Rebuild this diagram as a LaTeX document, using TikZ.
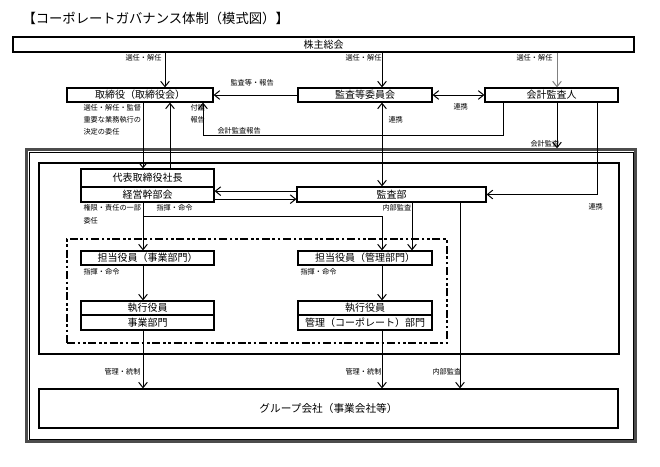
\documentclass[tikz,border=0pt]{standalone}
\usepackage{fontspec}
\setmainfont{Noto Sans CJK JP}
\usetikzlibrary{arrows.meta,fit}

\tikzset{every picture/.style={line width=0.75pt}}

\begin{document}
\begin{tikzpicture}[x=0.75pt,y=0.75pt,yscale=-1,xscale=1,
    box/.style={draw,line width=0.9pt,inner sep=0pt,fill=white,minimum height=10.5pt,font=\fontsize{7.5}{8}\selectfont},
    lbl/.style={anchor=west,inner sep=0.75pt,font=\fontsize{5.4}{6}\selectfont},
    arr/.style={-{Straight Barb[length=4pt,width=6.5pt]}},
    arrs/.style={{Straight Barb[length=4pt,width=6.5pt]}-{Straight Barb[length=4pt,width=6.5pt]}}]
            \useasboundingbox (0,0) rectangle (660,467);

            % Text Node
            \node [anchor=west,inner sep=0pt,font=\fontsize{10}{12}\selectfont] (title) at (22,18) {【コーポレートガバナンス体制（模式図）】};

            %Shape: frames
            \node [draw=gray!60!black,line width=1.8pt,inner sep=0pt,fit={(26.5,149.5) (635.5,441.5)}] (outer) {};
            \node [draw,line width=0.6pt,inner sep=0pt,fit={(29,152) (633,439)}] (outerin) {};
            \node [draw,line width=0.9pt,inner sep=0pt,fit={(39,163) (619,354)}] (inner) {};
            \node [draw,line width=1.6pt,inner sep=0pt,dash pattern={on 6pt off 2pt on 2pt off 2pt on 2pt off 2pt},fit={(67,239) (447,343)}] (exec) {};

            %Shape: boxes
            \node [box,minimum width=465.75pt,minimum height=11.25pt] (soukai) at (323.5,44.5) {株主総会};
            \node [box,minimum width=109.5pt] (tori) at (140,95) {取締役（取締役会）};
            \node [box,minimum width=100.5pt] (kansaiin) at (365,95) {監査等委員会};
            \node [box,minimum width=99.75pt] (kaikei) at (551.5,95) {会計監査人};
            \node [box,minimum width=99.75pt,minimum height=13.5pt] (shacho) at (147.5,178) {代表取締役社長};
            \node [box,minimum width=99.75pt,minimum height=11.25pt] (keiei) at (147.5,194.5) {経営幹部会};
            \node [box,minimum width=141.75pt,minimum height=11.25pt] (kansabu) at (391.5,194.5) {監査部};
            \node [box,minimum width=99.75pt] (tanto1) at (147.5,258) {担当役員（事業部門）};
            \node [box,minimum width=100.5pt] (tanto2) at (365,258) {担当役員（管理部門）};
            \node [box,minimum width=99.75pt] (shikko1) at (147.5,308) {執行役員};
            \node [box,minimum width=99.75pt,minimum height=11.25pt] (jigyo) at (147.5,322.5) {事業部門};
            \node [box,minimum width=100.5pt] (shikko2) at (365,308) {執行役員};
            \node [box,minimum width=100.5pt,minimum height=11.25pt] (kanri) at (365,322.5) {管理（コーポレート）部門};
            \node [box,minimum width=434.25pt,minimum height=29.25pt,font=\fontsize{8}{9}\selectfont] (group) at (328.5,408.5) {グループ会社（事業会社等）};

            % line positions
            \coordinate (xa) at (143,0);
            \coordinate (xb) at (165,0);
            \coordinate (xc) at (170,0);
            \coordinate (xd) at (203,0);
            \coordinate (xe) at (382,0);
            \coordinate (xf) at (412,0);
            \coordinate (xg) at (460,0);
            \coordinate (xh) at (503,0);
            \coordinate (xi) at (557,0);
            \coordinate (xj) at (597,0);
            \coordinate (ya) at (0,135);
            \coordinate (yb) at (0,216);

            %Straight Lines
            \draw [arr] (soukai.south -| xb) -- (tori.north -| xb);
            \draw [arr] (soukai.south -| xe) -- (kansaiin.north -| xe);
            \draw [arr,gray] (soukai.south -| xi) -- (kaikei.north -| xi);
            \draw [arr] (kansaiin.west) -- (tori.east);
            \draw [arrs] (kansaiin.east) -- (kaikei.west);
            \draw [arr] (kaikei.south -| xh) |- (ya -| xd) -- (tori.south -| xd);
            \draw [arrs] (kansaiin.south -| xe) -- (kansabu.north -| xe);
            \draw [arr] (tori.south -| xa) -- (shacho.north -| xa);
            \draw [arr] (shacho.north -| xc) -- (tori.south -| xc);
            \draw [arr] (kaikei.south -| xi) -- (outer.north -| xi);
            \draw [arr] (kaikei.south -| xj) |- (kansabu.east);
            \draw [arr] ([yshift=3.5pt]keiei.east) -- ([yshift=3.5pt]kansabu.west);
            \draw [arr] ([yshift=-2.5pt]kansabu.west) -- ([yshift=-2.5pt]keiei.east);
            \draw [arr] (keiei.south -| xa) -- (tanto1.north -| xa);
            \draw [arr] (yb -| xa) -| (tanto2.north -| xe);
            \draw [arr] (kansabu.south -| xf) -- (tanto2.north -| xf);
            \draw [arr] (kansabu.south -| xg) -- (group.north -| xg);
            \draw [arr] (tanto1.south -| xa) -- (shikko1.north -| xa);
            \draw [arr] (tanto2.south -| xe) -- (shikko2.north -| xe);
            \draw [arr] (jigyo.south -| xa) -- (group.north -| xa);
            \draw [arr] (kanri.south -| xe) -- (group.north -| xe);

            % Text Node
            \node [lbl] (l1) at (124,58) {選任・解任};
            \node [lbl] (l2) at (344,58) {選任・解任};
            \node [lbl] (l3) at (515,58) {選任・解任};
            \node [lbl] (l4) at (229,83) {監査等・報告};
            \node [lbl] (l5) at (452,107) {連携};
            \node [lbl] (l6) at (387,120) {連携};
            \node [lbl] (l7) at (189,108) {付議};
            \node [lbl] (l8) at (189,120) {報告};
            \node [lbl] (l9) at (216,131) {会計監査報告};
            \node [lbl] (l10) at (82,108) {選任・解任・監督};
            \node [lbl] (l11) at (82,120) {重要な業務執行の};
            \node [lbl] (l12) at (82,132) {決定の委任};
            \node [lbl] (l13) at (529,144) {会計監査};
            \node [lbl] (l14) at (587,207) {連携};
            \node [lbl] (l15) at (82,208) {権限・責任の一部};
            \node [lbl] (l16) at (82,221) {委任};
            \node [lbl] (l17) at (155,208) {指揮・命令};
            \node [lbl] (l18) at (381,208) {内部監査};
            \node [lbl] (l19) at (82,272) {指揮・命令};
            \node [lbl] (l20) at (299,272) {指揮・命令};
            \node [lbl] (l21) at (103,372) {管理・統制};
            \node [lbl] (l22) at (344,372) {管理・統制};
            \node [lbl] (l23) at (431,372) {内部監査};

\end{tikzpicture}
\end{document}
